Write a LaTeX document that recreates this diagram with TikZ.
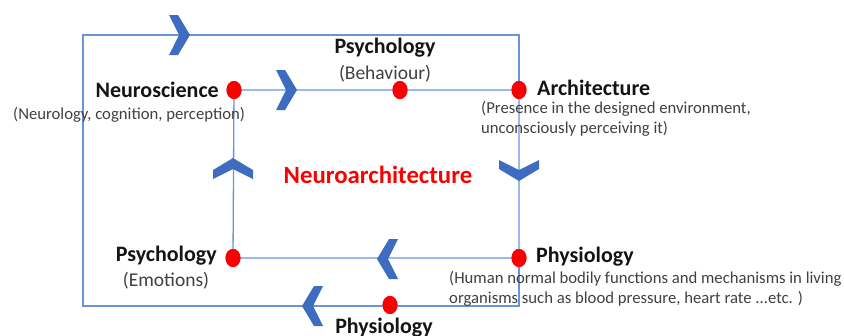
\documentclass[tikz,border=0pt]{standalone}
\usepackage{fontspec}
\setmainfont{Carlito}
\usetikzlibrary{shapes.geometric}
\definecolor{linkblue}{RGB}{104,148,218}
\definecolor{chevblue}{RGB}{62,108,192}
\definecolor{dotred}{RGB}{250,0,0}
\definecolor{titlegray}{RGB}{20,20,20}
\definecolor{notegray}{RGB}{64,64,64}
\tikzset{
  link/.style={draw=linkblue, line width=1.3pt},
  dot/.style={ellipse, fill=dotred, minimum width=15pt, minimum height=18pt, inner sep=0pt},
  title/.style={font=\fontsize{22}{26}\selectfont\bfseries, text=titlegray, inner sep=0pt},
  note/.style={font=\fontsize{16.7}{20}\selectfont, text=notegray, inner sep=0pt, align=left},
  bignote/.style={font=\fontsize{19.5}{23}\selectfont, text=notegray, inner sep=0pt},
  chev/.pic={\fill[chevblue] (0,0) -- (-12,-20) -- (-21,-20) -- (-11,0)
               -- (-21,20) -- (-12,20) -- cycle;}
}
\begin{document}
\begin{tikzpicture}[x=1pt, y=-1pt]
\useasboundingbox (0,0) rectangle (844,335);

% points of the two loops
\coordinate (ntop) at (83,35);
\coordinate (netop) at (519,35);
\coordinate (nebot) at (519,306);
\coordinate (nbot) at (83,306);
\node[dot] (neuro) at (234,90) {};
\node[dot] (behav) at (400,90) {};
\node[dot] (arch) at (519,90) {};
\node[dot] (physio) at (519,258) {};
\node[dot] (emot) at (233,258) {};
\node[dot] (physbot) at (390,305) {};

% connectors
\path[link] (neuro.center) -- (behav.center) -- (arch.center) -- (physio.center)
  -- (emot.center) -- (neuro.center);
\path[link] (physio.center) -- (nebot) -- (nbot) -- (ntop) -- (netop) -- (arch.center);

% direction chevrons
\pic at (190,35) {chev};
\pic at (297,90) {chev};
\pic[rotate=-90] at (519,181) {chev};
\pic[rotate=90] at (233,158) {chev};
\pic[rotate=180] at (377,259) {chev};
\pic[rotate=180] at (302,306) {chev};

% redraw the dots above the lines
\foreach \d in {neuro,behav,arch,physio,emot,physbot}
  \node[dot] at (\d) {};

% labels
\node[title] (tpsy) at (385,48) {Psychology};
\node[bignote] (tbeh) at (385,74) {(Behaviour)};
\node[title, anchor=east] (tneu) at (219,90) {Neuroscience};
\node[note, anchor=west] (nneu) at (13,115) {(Neurology, cognition, perception)};
\node[title, anchor=west] (tarch) at (537,88) {Architecture};
\node[note, anchor=north west] (narch) at (481,101)
  {(Presence in the designed environment,\\unconsciously perceiving it)};
\node[font=\fontsize{24.8}{28}\selectfont\bfseries, text=dotred, inner sep=0pt]
  (tmain) at (378,175) {Neuroarchitecture};
\node[title, anchor=west] (tphy) at (536,257) {Physiology};
\node[note, anchor=north west] (nphy) at (449,271)
  {(Human normal bodily functions and mechanisms in living\\organisms such as blood pressure, heart rate ...etc. )};
\node[title, anchor=east] (temo) at (217,256) {Psychology};
\node[bignote] (nemo) at (166,281) {(Emotions)};
\node[title] (tbot) at (384,328) {Physiology};
\end{tikzpicture}
\end{document}
